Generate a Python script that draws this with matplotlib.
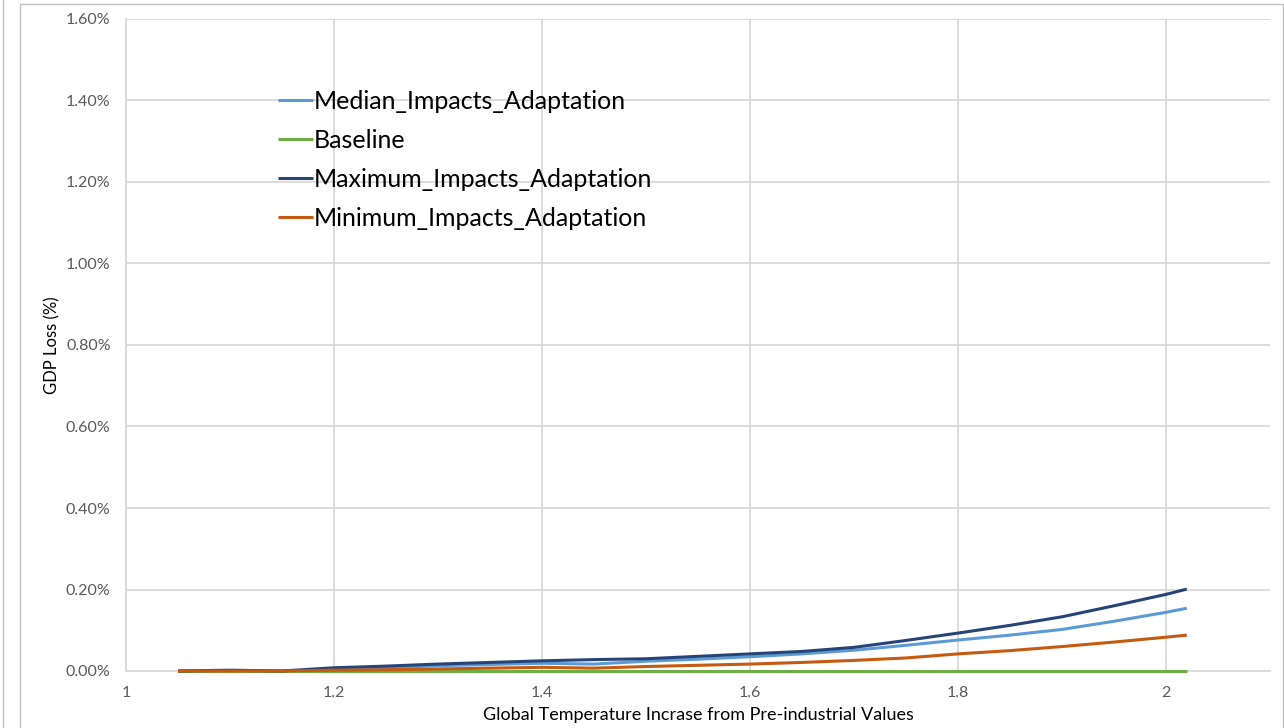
import matplotlib
matplotlib.use("Agg")
import matplotlib.pyplot as plt
from matplotlib.ticker import PercentFormatter, MultipleLocator
from matplotlib.lines import Line2D
from matplotlib.patches import Rectangle

plt.rcParams['font.family'] = ['Lato', 'DejaVu Sans']

temperature = [1.05, 1.10, 1.15, 1.20, 1.25, 1.30, 1.35, 1.40, 1.45, 1.50, 1.55,
               1.60, 1.65, 1.70, 1.75, 1.80, 1.85, 1.90, 1.95, 2.00, 2.02]
median_impacts = [0.000, 0.001, 0.000, 0.004, 0.008, 0.013, 0.016, 0.019, 0.017, 0.024, 0.029,
                  0.035, 0.042, 0.051, 0.063, 0.076, 0.088, 0.102, 0.122, 0.144, 0.154]
baseline = [0.0] * len(temperature)
maximum_impacts = [0.000, 0.002, 0.000, 0.008, 0.012, 0.017, 0.021, 0.025, 0.028, 0.030, 0.036,
                   0.042, 0.048, 0.058, 0.075, 0.093, 0.112, 0.133, 0.160, 0.188, 0.201]
minimum_impacts = [0.000, 0.000, 0.000, 0.002, 0.003, 0.005, 0.007, 0.009, 0.007, 0.011, 0.014,
                   0.017, 0.021, 0.026, 0.032, 0.042, 0.050, 0.060, 0.071, 0.083, 0.088]

series_names = ["Median_Impacts_Adaptation", "Baseline",
                "Maximum_Impacts_Adaptation", "Minimum_Impacts_Adaptation"]
series_values = [median_impacts, baseline, maximum_impacts, minimum_impacts]
series_colors = ["#5B9BD5", "#70AD47", "#264478", "#C55A11"]

W, H = 1284, 728
fig = plt.figure(figsize=(W / 100, H / 100), dpi=100)
fig.patch.set_facecolor("white")

# chart-area frame and left edge line
fig.add_artist(Rectangle((20 / W, -0.05), (1283 - 20) / W, (H - 4) / H + 0.05,
                         transform=fig.transFigure, fill=False,
                         edgecolor="#BFBFBF", linewidth=1.0))
fig.add_artist(Line2D([3 / W, 3 / W], [0, 1], transform=fig.transFigure,
                      color="#BFBFBF", linewidth=1.0))

ax = fig.add_axes([126 / W, (H - 671) / H, (1270 - 126) / W, (671 - 19) / H])

for name, vals, col in zip(series_names, series_values, series_colors):
    ax.plot(temperature, vals, color=col, linewidth=2.2, label=name,
            solid_capstyle="butt", zorder=3, clip_on=False)

ax.set_xlim(1.0, 2.1)
ax.set_ylim(0, 1.6)
ax.xaxis.set_major_locator(MultipleLocator(0.2))
ax.yaxis.set_major_locator(MultipleLocator(0.2))
ax.yaxis.set_major_formatter(PercentFormatter(xmax=100, decimals=2))
ax.xaxis.set_major_formatter(plt.FuncFormatter(lambda v, p: f"{v:g}"))

ax.grid(True, color="#D9D9D9", linewidth=1.3, zorder=0)
ax.set_axisbelow(True)
for s in ["top", "right"]:
    ax.spines[s].set_visible(False)
for s in ["left", "bottom"]:
    ax.spines[s].set_color("#D9D9D9")
    ax.spines[s].set_linewidth(1.3)

ax.tick_params(axis="both", length=0, labelsize=11.5, labelcolor="#595959")
ax.tick_params(axis="x", pad=11)
ax.tick_params(axis="y", pad=11)

ax.set_ylabel("GDP Loss (%)", fontsize=12, color="#000000", labelpad=4)
ax.set_xlabel("Global Temperature Incrase from Pre-industrial Values",
              fontsize=13, color="#000000", labelpad=5)

leg = ax.legend(loc="upper left", bbox_to_anchor=(142 / (1270 - 126), (671 - 80) / (671 - 19)),
                frameon=False, fontsize=18, handlelength=1.4, handletextpad=0.05,
                labelspacing=0.64, borderaxespad=0)

fig.savefig("out.png", dpi=100)
